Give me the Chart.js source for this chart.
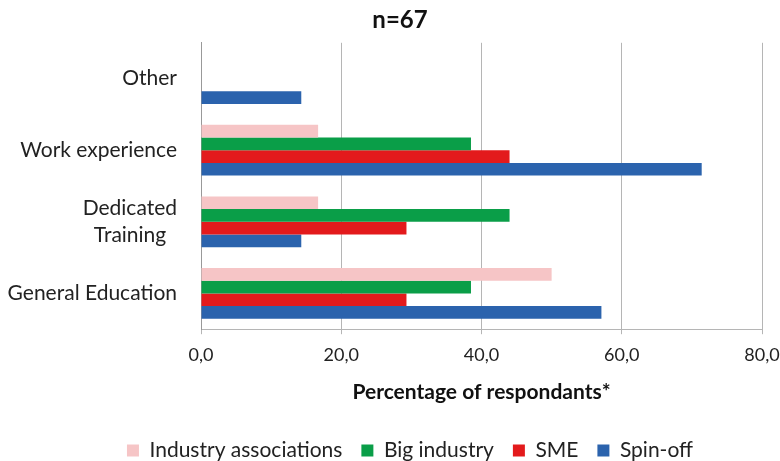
<!DOCTYPE html>
<html>
<head>
<meta charset="utf-8">
<script src="https://cdn.jsdelivr.net/npm/chart.js@4"></script>
<style>
html,body{margin:0;padding:0;background:#fff;}
#wrap{width:780px;height:461px;}
</style>
</head>
<body>
<div id="wrap"><canvas id="c" width="780" height="461"></canvas></div>
<script>
const categories = ['Other', 'Work experience', ['Dedicated', 'Training  '], 'General Education'];
const seriesNames = ['Industry associations', 'Big industry', 'SME', 'Spin-off'];
const industryAssociations = [0, 16.7, 16.7, 50.0];
const bigIndustry = [0, 38.5, 44.0, 38.5];
const sme = [0, 44.0, 29.3, 29.3];
const spinOff = [14.3, 71.4, 14.3, 57.1];
const xTicks = [0, 20, 40, 60, 80];
const colors = ['#F6C5C6', '#0A9E48', '#E31A1C', '#2B63AD'];

const FONT = 'Lato, "Open Sans", sans-serif';
const seriesValues = [industryAssociations, bigIndustry, sme, spinOff];

const shiftPlugin = {
  id: 'shiftBlocks',
  afterLayout(chart) {
    if (chart.legend) { chart.legend.left += 20; chart.legend.right += 20; }
    if (chart.titleBlock) { chart.titleBlock.left += 10; chart.titleBlock.right += 10; }
  }
};

new Chart(document.getElementById('c'), {
  type: 'bar',
  data: {
    labels: categories,
    datasets: seriesNames.map((n, i) => ({
      label: n,
      data: seriesValues[i],
      backgroundColor: colors[i],
      borderWidth: 0,
      categoryPercentage: 0.71,
      barPercentage: 1.0
    }))
  },
  plugins: [shiftPlugin],
  options: {
    indexAxis: 'y',
    responsive: false,
    animation: false,
    layout: { padding: { left: 0, right: 0, top: 6, bottom: -10 } },
    plugins: {
      title: {
        display: true,
        text: 'n=67',
        color: '#111',
        font: { family: FONT, size: 24, weight: 'bold' },
        padding: { top: 0, bottom: 8 }
      },
      legend: {
        position: 'bottom',
        labels: {
          color: '#222',
          font: { family: FONT, size: 21 },
          boxWidth: 12,
          boxHeight: 12,
          padding: 19
        }
      },
      tooltip: { enabled: false }
    },
    scales: {
      x: {
        min: 0,
        max: 80,
        afterBuildTicks: (s) => { s.ticks = xTicks.map(v => ({ value: v })); },
        afterFit: (s) => { s.paddingRight = 18; },
        ticks: {
          color: '#222',
          font: { family: FONT, size: 18 },
          padding: 10,
          callback: (v) => Number(v).toFixed(1).replace('.', ',')
        },
        grid: { color: '#b5b5b5', lineWidth: 1, drawTicks: true, tickLength: 5 },
        border: { display: true, color: '#b5b5b5' },
        title: {
          display: true,
          text: 'Percentage of respondants*',
          color: '#111',
          font: { family: FONT, size: 21, weight: 'bold' },
          padding: { top: 4, bottom: 16 }
        }
      },
      y: {
        ticks: {
          color: '#222',
          font: { family: FONT, size: 21, lineHeight: 1.3 },
          padding: 24
        },
        grid: { display: false, drawTicks: false },
        border: { display: true, color: '#999' },
        afterFit: (s) => { s.width = 201; }
      }
    }
  }
});
</script>
</body>
</html>
